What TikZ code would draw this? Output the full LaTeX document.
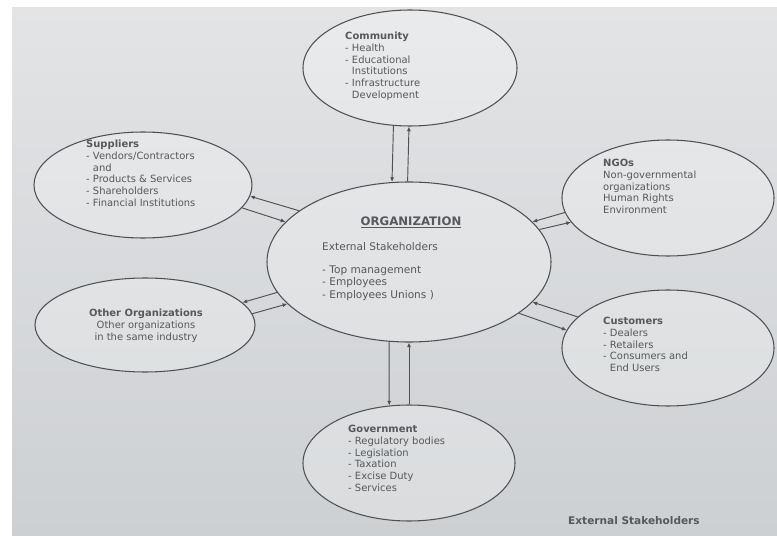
\documentclass[tikz,border=0pt]{standalone}
\usepackage{fontspec}
\setmainfont{DejaVu Sans}
\usetikzlibrary{shapes.geometric,arrows.meta}
\definecolor{paperhi}{RGB}{226,228,230}
\definecolor{paperlo}{RGB}{205,208,211}
\definecolor{pen}{RGB}{78,80,84}
\definecolor{ink}{RGB}{86,88,92}

\begin{document}
\begin{tikzpicture}[
    x=0.03cm, y=-0.03cm,
    stake/.style={draw=pen, line width=0.9pt, ellipse, fill=white, fill opacity=0.25, draw opacity=1},
    info/.style={anchor=north west, inner sep=0pt, align=left, text=ink, font=\fontsize{8.5}{10}\selectfont},
    link/.style={draw=pen, line width=0.8pt},
    >={Latex[length=4pt,width=3.5pt]}
  ]
  \useasboundingbox (0,0) rectangle (777,536);
  \fill[white] (0,0) rectangle (777,536);
  \shade[top color=paperhi, bottom color=paperlo] (12,8) rectangle (777,536);

  % ellipses
  \node[stake, minimum width=8.52cm, minimum height=4.8cm] (org) at (409,262) {};
  \node[stake, minimum width=6.42cm, minimum height=3.48cm] (comm) at (410,68) {};
  \node[stake, minimum width=6.54cm, minimum height=3.18cm] (sup) at (143,185) {};
  \node[stake, minimum width=6.36cm, minimum height=3.48cm] (ngo) at (668,198) {};
  \node[stake, minimum width=6.6cm, minimum height=2.82cm] (oth) at (145,325) {};
  \node[stake, minimum width=6.36cm, minimum height=3.48cm] (cust) at (668,348) {};
  \node[stake, minimum width=6.36cm, minimum height=3.48cm] (gov) at (409,463) {};

  % texts
  \node[text=ink, inner sep=0pt, font=\fontsize{10}{12}\selectfont\bfseries] (org-title) at (411,222) {\underline{ORGANIZATION}};
  \node[info, font=\fontsize{9}{10.6}\selectfont] (org-txt) at (322,242) {External Stakeholders\\[9pt]- Top management\\- Employees\\- Employees Unions )};
  \node[info] (comm-txt) at (345,32) {\textbf{Community}\\- Health\\- Educational\\\phantom{- }Institutions\\- Infrastructure\\\phantom{- }Development};
  \node[info] (sup-txt) at (86,140) {\textbf{Suppliers}\\- Vendors/Contractors\\\phantom{- }and\\- Products \& Services\\- Shareholders\\- Financial Institutions};
  \node[info] (ngo-txt) at (603,159) {\textbf{NGOs}\\Non-governmental\\organizations\\Human Rights\\Environment};
  \node[info, anchor=north, align=center] (oth-txt) at (146,309) {\textbf{Other Organizations}\\Other organizations\\in the same industry};
  \node[info] (cust-txt) at (603,317) {\textbf{Customers}\\- Dealers\\- Retailers\\- Consumers and\\\phantom{- }End Users};
  \node[info] (gov-txt) at (348,425) {\textbf{Government}\\- Regulatory bodies\\- Legislation\\- Taxation\\- Excise Duty\\- Services};
  \node[info, font=\fontsize{9}{11}\selectfont\bfseries] (caption) at (568,516) {External Stakeholders};

  % connectors
  \draw[link, ->] (comm.-106) -- (org.102);
  \draw[link, <-] (comm.-91) -- (org.91);
  \draw[link, <-] (sup.-6) -- (org.155);
  \draw[link, ->] (sup.-13) -- (org.162);
  \draw[link, <-] (oth.13) -- (org.193);
  \draw[link, ->] (oth.6) -- (org.199);
  \draw[link, ->] (ngo.188) -- (org.18);
  \draw[link, <-] (ngo.194) -- (org.14);
  \draw[link, ->] (cust.161) -- (org.-18);
  \draw[link, <-] (cust.170) -- (org.-25);
  \draw[link, ->] (org.-104) -- (gov.109);
  \draw[link, <-] (org.south) -- (gov.north);
\end{tikzpicture}
\end{document}
